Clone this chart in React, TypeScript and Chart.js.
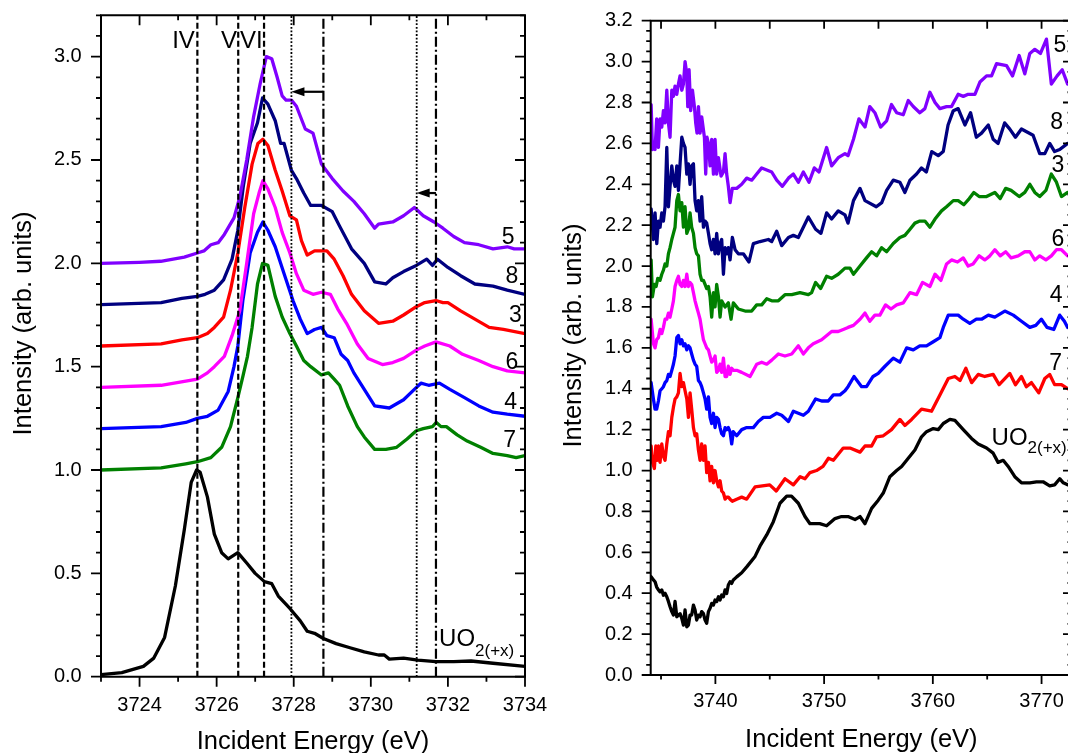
import React, { useEffect, useRef } from "react";
import { Chart, registerables } from "chart.js";

Chart.register(...registerables);

type Pt = [number, number];

const FONT = "'Liberation Sans', Arial, Helvetica, sans-serif";

// ---------------- LEFT PANEL DATA (edge region) ----------------
const LEFT_X_TICKS = [3724, 3726, 3728, 3730, 3732, 3734];
const LEFT_X_MINOR = [3723, 3725, 3727, 3729, 3731, 3733];
const LEFT_Y_TICKS = [0, 0.5, 1, 1.5, 2, 2.5, 3];

const LEFT_5: Pt[] = [
  [3723.0, 2.0], [3724.0, 2.005], [3724.55, 2.01], [3725.16, 2.03], [3725.5, 2.05], [3725.67, 2.06],
  [3725.85, 2.09], [3726.04, 2.1], [3726.2, 2.14], [3726.45, 2.22], [3726.6, 2.32], [3726.78, 2.5],
  [3726.96, 2.71], [3727.13, 2.87], [3727.29, 3.0], [3727.43, 2.99], [3727.57, 2.9], [3727.7, 2.81],
  [3727.8, 2.79], [3727.94, 2.79], [3728.07, 2.76], [3728.3, 2.65], [3728.5, 2.63], [3728.72, 2.48],
  [3729.0, 2.41], [3729.28, 2.35], [3729.56, 2.3], [3729.83, 2.24], [3730.1, 2.17], [3730.2, 2.19],
  [3730.57, 2.2], [3730.85, 2.23], [3731.13, 2.27], [3731.36, 2.23], [3731.64, 2.2], [3731.87, 2.17],
  [3732.15, 2.13], [3732.43, 2.1], [3732.8, 2.09], [3733.17, 2.07], [3733.54, 2.08], [3733.72, 2.07],
  [3734.0, 2.07],
];
const LEFT_8: Pt[] = [
  [3723.0, 1.8], [3724.56, 1.81], [3725.1, 1.83], [3725.5, 1.84], [3725.7, 1.85], [3725.94, 1.87],
  [3726.18, 1.92], [3726.4, 2.02], [3726.55, 2.16], [3726.69, 2.37], [3726.87, 2.58], [3727.06, 2.68],
  [3727.19, 2.8], [3727.33, 2.77], [3727.52, 2.69], [3727.66, 2.58], [3727.75, 2.58], [3727.94, 2.45],
  [3728.07, 2.41], [3728.26, 2.34], [3728.44, 2.28], [3728.72, 2.28], [3729.0, 2.25], [3729.19, 2.18],
  [3729.5, 2.07], [3729.83, 2.0], [3730.1, 1.91], [3730.39, 1.9], [3730.57, 1.93], [3730.85, 1.96],
  [3731.18, 1.99], [3731.45, 2.02], [3731.6, 1.99], [3731.73, 2.02], [3732.0, 1.98], [3732.33, 1.94],
  [3732.7, 1.9], [3733.17, 1.89], [3733.54, 1.87], [3734.0, 1.85],
];
const LEFT_3: Pt[] = [
  [3723.0, 1.6], [3724.56, 1.61], [3725.1, 1.63], [3725.5, 1.64], [3725.76, 1.66], [3725.94, 1.69],
  [3726.18, 1.74], [3726.36, 1.87], [3726.55, 2.05], [3726.73, 2.27], [3726.92, 2.48], [3727.07, 2.58],
  [3727.2, 2.6], [3727.33, 2.57], [3727.52, 2.45], [3727.7, 2.35], [3727.9, 2.23], [3728.07, 2.21],
  [3728.2, 2.11], [3728.35, 2.04], [3728.54, 2.06], [3728.86, 2.06], [3729.05, 2.02], [3729.28, 1.94],
  [3729.5, 1.85], [3729.83, 1.77], [3730.2, 1.71], [3730.57, 1.72], [3730.85, 1.75], [3731.18, 1.79],
  [3731.4, 1.81], [3731.69, 1.82], [3731.87, 1.81], [3732.0, 1.81], [3732.33, 1.77], [3732.7, 1.73],
  [3733.07, 1.69], [3733.44, 1.68], [3734.0, 1.66],
];
const LEFT_6: Pt[] = [
  [3723.0, 1.4], [3724.56, 1.41], [3725.2, 1.43], [3725.5, 1.44], [3725.76, 1.47], [3725.94, 1.5],
  [3726.2, 1.55], [3726.4, 1.65], [3726.6, 1.77], [3726.78, 2.0], [3726.96, 2.24], [3727.1, 2.34],
  [3727.2, 2.4], [3727.33, 2.36], [3727.52, 2.27], [3727.7, 2.15], [3727.9, 2.05], [3728.07, 1.95],
  [3728.26, 1.87], [3728.5, 1.85], [3728.72, 1.86], [3728.95, 1.85], [3729.14, 1.78], [3729.37, 1.71],
  [3729.65, 1.61], [3729.93, 1.54], [3730.3, 1.51], [3730.57, 1.52], [3730.85, 1.54], [3731.18, 1.58],
  [3731.4, 1.6], [3731.69, 1.62], [3732.05, 1.6], [3732.38, 1.56], [3732.8, 1.53], [3733.17, 1.5],
  [3733.54, 1.48], [3734.0, 1.47],
];
const LEFT_4: Pt[] = [
  [3723.0, 1.2], [3724.56, 1.21], [3725.2, 1.23], [3725.5, 1.25], [3725.76, 1.26], [3726.04, 1.29],
  [3726.3, 1.38], [3726.45, 1.5], [3726.55, 1.6], [3726.68, 1.82], [3726.87, 2.05], [3727.06, 2.15],
  [3727.2, 2.2], [3727.33, 2.16], [3727.52, 2.08], [3727.75, 1.95], [3727.98, 1.82], [3728.17, 1.73],
  [3728.35, 1.66], [3728.54, 1.68], [3728.72, 1.69], [3728.86, 1.65], [3729.05, 1.64], [3729.23, 1.56],
  [3729.4, 1.53], [3729.56, 1.47], [3729.83, 1.39], [3730.1, 1.31], [3730.48, 1.3], [3730.85, 1.34],
  [3731.13, 1.39], [3731.3, 1.42], [3731.5, 1.41], [3731.78, 1.42], [3732.05, 1.39], [3732.43, 1.35],
  [3732.8, 1.31], [3733.17, 1.28], [3733.54, 1.27], [3734.0, 1.26],
];
const LEFT_7: Pt[] = [
  [3723.0, 1.0], [3724.56, 1.01], [3725.2, 1.03], [3725.5, 1.04], [3725.85, 1.06], [3726.13, 1.11],
  [3726.36, 1.21], [3726.55, 1.35], [3726.69, 1.46], [3726.8, 1.55], [3726.92, 1.69], [3727.06, 1.9],
  [3727.19, 2.0], [3727.33, 1.99], [3727.52, 1.84], [3727.7, 1.74], [3727.9, 1.66], [3728.07, 1.6],
  [3728.26, 1.53], [3728.44, 1.5], [3728.72, 1.46], [3728.9, 1.47], [3729.05, 1.44], [3729.19, 1.41],
  [3729.4, 1.31], [3729.65, 1.21], [3729.83, 1.16], [3730.1, 1.1], [3730.39, 1.1], [3730.67, 1.11],
  [3730.94, 1.15], [3731.18, 1.19], [3731.36, 1.2], [3731.6, 1.21], [3731.7, 1.23], [3731.82, 1.21],
  [3731.96, 1.21], [3732.24, 1.17], [3732.5, 1.14], [3732.85, 1.11], [3733.17, 1.08], [3733.54, 1.07],
  [3733.77, 1.06], [3734.0, 1.07],
];
const LEFT_UO2: Pt[] = [
  [3723.0, 0.01], [3723.54, 0.02], [3724.1, 0.05], [3724.37, 0.09], [3724.65, 0.19], [3724.93, 0.44],
  [3725.16, 0.71], [3725.34, 0.94], [3725.48, 1.0], [3725.57, 0.99], [3725.76, 0.87], [3725.94, 0.69],
  [3726.13, 0.6], [3726.3, 0.57], [3726.55, 0.6], [3726.78, 0.55], [3727.0, 0.5], [3727.24, 0.46],
  [3727.43, 0.45], [3727.6, 0.39], [3727.9, 0.33], [3728.17, 0.27], [3728.35, 0.22], [3728.54, 0.21],
  [3728.77, 0.185], [3729.1, 0.16], [3729.46, 0.14], [3729.83, 0.12], [3730.2, 0.105], [3730.35, 0.105],
  [3730.48, 0.085], [3730.85, 0.09], [3731.22, 0.08], [3731.69, 0.073], [3732.15, 0.073], [3732.6, 0.076],
  [3733.17, 0.065], [3734.0, 0.05],
];

// reference lines (eV)
const DASHED_LINES = [3725.5, 3726.56, 3727.23];
const DOTTED_LINES = [3727.94, 3731.19];
const DASHDOT_LINES = [3728.77, 3731.69];
const SHIFT_ARROWS = [
  { from: 3728.77, to: 3727.94, y: 2.83 },
  { from: 3731.69, to: 3731.19, y: 2.34 },
];

// ---------------- RIGHT PANEL DATA (post-edge region) ----------------
const RIGHT_X_TICKS = [3740, 3750, 3760, 3770];
const RIGHT_X_MINOR = [3735, 3745, 3755, 3765];
const RIGHT_Y_TICKS = [0, 0.2, 0.4, 0.6, 0.8, 1.0, 1.2, 1.4, 1.6, 1.8, 2.0, 2.2, 2.4, 2.6, 2.8, 3.0, 3.2];

const RIGHT_5: Pt[] = [
  [3734.09, 2.79], [3734.21, 2.57], [3734.3, 2.58], [3734.45, 2.57], [3734.6, 2.72], [3734.76, 2.58],
  [3734.91, 2.72], [3735.07, 2.68], [3735.22, 2.76], [3735.37, 2.7], [3735.53, 2.86], [3735.68, 2.7],
  [3735.83, 2.63], [3735.99, 2.86], [3736.14, 2.83], [3736.29, 2.88], [3736.45, 2.84], [3736.6, 2.89],
  [3736.75, 2.93], [3736.91, 2.86], [3737.06, 2.89], [3737.21, 3.0], [3737.37, 2.94], [3737.46, 2.78],
  [3737.58, 2.96], [3737.73, 2.76], [3737.89, 2.86], [3738.07, 2.78], [3738.19, 2.7], [3738.31, 2.65],
  [3738.44, 2.78], [3738.59, 2.65], [3738.74, 2.73], [3738.99, 2.63], [3739.11, 2.45], [3739.23, 2.63],
  [3739.36, 2.6], [3739.51, 2.49], [3739.66, 2.62], [3739.82, 2.45], [3739.97, 2.62], [3740.12, 2.45],
  [3740.28, 2.53], [3740.52, 2.44], [3740.74, 2.46], [3740.89, 2.55], [3741.04, 2.45], [3741.19, 2.39],
  [3741.35, 2.31], [3741.56, 2.38], [3741.96, 2.38], [3742.42, 2.4], [3742.88, 2.43], [3743.34, 2.42],
  [3743.8, 2.45], [3744.26, 2.48], [3745.18, 2.46], [3745.64, 2.42], [3746.16, 2.39], [3746.72, 2.43],
  [3747.17, 2.45], [3747.63, 2.41], [3748.09, 2.46], [3748.61, 2.41], [3749.1, 2.48], [3749.53, 2.46],
  [3750.23, 2.58], [3750.69, 2.49], [3751.3, 2.53], [3751.92, 2.55], [3752.2, 2.54], [3752.7, 2.62],
  [3753.2, 2.72], [3753.76, 2.68], [3754.2, 2.78], [3754.67, 2.75], [3755.2, 2.68], [3755.75, 2.71],
  [3756.2, 2.79], [3756.67, 2.75], [3757.28, 2.74], [3757.74, 2.81], [3758.2, 2.78], [3758.8, 2.75],
  [3759.27, 2.77], [3759.73, 2.85], [3760.2, 2.8], [3760.65, 2.77], [3761.26, 2.78], [3761.72, 2.78],
  [3762.33, 2.84], [3762.8, 2.83], [3763.25, 2.84], [3763.87, 2.84], [3764.33, 2.9], [3764.94, 2.93],
  [3765.4, 2.93], [3765.86, 2.99], [3766.78, 2.98], [3767.33, 2.93], [3767.94, 3.03], [3768.46, 2.94],
  [3768.92, 3.04], [3769.38, 3.06], [3769.9, 3.04], [3770.45, 3.11], [3770.9, 2.89], [3771.43, 2.93],
  [3771.9, 2.96], [3772.4, 2.89],
];
const RIGHT_8: Pt[] = [
  [3734.09, 2.28], [3734.3, 2.13], [3734.45, 2.26], [3734.61, 2.11], [3734.76, 2.22], [3734.91, 2.19],
  [3735.07, 2.26], [3735.22, 2.22], [3735.37, 2.29], [3735.53, 2.58], [3735.68, 2.29], [3735.83, 2.39],
  [3735.99, 2.49], [3736.14, 2.42], [3736.29, 2.39], [3736.45, 2.49], [3736.6, 2.37], [3736.75, 2.5],
  [3736.91, 2.63], [3737.06, 2.6], [3737.21, 2.58], [3737.37, 2.45], [3737.52, 2.5], [3737.67, 2.4],
  [3737.82, 2.49], [3737.98, 2.5], [3738.13, 2.32], [3738.28, 2.27], [3738.44, 2.32], [3738.59, 2.22],
  [3738.74, 2.34], [3738.9, 2.19], [3739.05, 2.22], [3739.2, 2.21], [3739.36, 2.16], [3739.51, 2.11],
  [3739.66, 2.08], [3739.82, 2.13], [3739.97, 2.06], [3740.12, 2.16], [3740.28, 2.06], [3740.43, 2.11],
  [3740.58, 2.13], [3740.74, 1.96], [3740.89, 2.09], [3741.04, 2.06], [3741.19, 2.09], [3741.35, 2.03],
  [3741.56, 2.14], [3741.81, 2.08], [3742.11, 2.06], [3742.57, 2.06], [3743.09, 2.02], [3743.49, 2.11],
  [3744.11, 2.12], [3744.87, 2.13], [3745.18, 2.12], [3745.64, 2.17], [3746.1, 2.1], [3746.72, 2.14],
  [3747.17, 2.15], [3747.63, 2.14], [3748.55, 2.24], [3749.22, 2.18], [3749.71, 2.16], [3750.23, 2.26],
  [3750.69, 2.23], [3751.3, 2.27], [3751.92, 2.25], [3752.2, 2.21], [3752.7, 2.32], [3753.3, 2.38],
  [3753.76, 2.32], [3754.8, 2.29], [3755.3, 2.31], [3755.75, 2.37], [3756.36, 2.42], [3756.97, 2.41],
  [3757.43, 2.36], [3757.9, 2.42], [3758.5, 2.45], [3758.96, 2.48], [3759.4, 2.46], [3759.9, 2.56],
  [3760.5, 2.54], [3760.96, 2.56], [3761.4, 2.69], [3761.88, 2.76], [3762.33, 2.77], [3762.95, 2.69],
  [3763.47, 2.75], [3764.0, 2.63], [3764.48, 2.65], [3765.1, 2.69], [3765.55, 2.62], [3766.0, 2.6],
  [3766.6, 2.7], [3767.08, 2.67], [3767.6, 2.63], [3768.15, 2.67], [3769.22, 2.64], [3769.83, 2.55],
  [3770.3, 2.55], [3770.75, 2.6], [3771.2, 2.56], [3771.67, 2.57], [3772.4, 2.6],
];
const RIGHT_3: Pt[] = [
  [3734.09, 2.03], [3734.21, 1.85], [3734.39, 1.91], [3734.55, 1.9], [3734.7, 1.94], [3734.91, 1.93],
  [3735.07, 1.96], [3735.22, 1.98], [3735.37, 2.01], [3735.53, 2.0], [3735.68, 2.06], [3735.83, 2.09],
  [3735.99, 2.13], [3736.14, 2.16], [3736.29, 2.19], [3736.45, 2.32], [3736.6, 2.35], [3736.75, 2.27],
  [3736.91, 2.31], [3737.06, 2.19], [3737.21, 2.29], [3737.37, 2.16], [3737.52, 2.18], [3737.67, 2.26],
  [3737.82, 2.19], [3737.98, 2.16], [3738.13, 2.09], [3738.28, 2.06], [3738.44, 2.05], [3738.59, 1.96],
  [3738.74, 1.93], [3738.9, 1.93], [3739.05, 1.91], [3739.2, 1.89], [3739.36, 1.9], [3739.51, 1.85],
  [3739.66, 1.75], [3739.82, 1.87], [3739.97, 1.8], [3740.12, 1.91], [3740.28, 1.85], [3740.43, 1.75],
  [3740.58, 1.83], [3740.89, 1.8], [3741.19, 1.82], [3741.44, 1.74], [3741.65, 1.82], [3742.11, 1.79],
  [3742.73, 1.78], [3743.34, 1.78], [3743.8, 1.81], [3744.26, 1.81], [3744.72, 1.84], [3745.18, 1.83],
  [3745.79, 1.83], [3746.4, 1.86], [3747.02, 1.86], [3747.78, 1.87], [3748.55, 1.86], [3748.85, 1.87],
  [3749.22, 1.92], [3749.68, 1.89], [3750.23, 1.95], [3750.69, 1.94], [3751.3, 1.96], [3751.92, 1.99],
  [3752.38, 1.99], [3752.7, 1.96], [3753.3, 2.0], [3753.9, 2.04], [3754.37, 2.07], [3754.83, 2.05],
  [3755.29, 2.09], [3755.75, 2.07], [3756.36, 2.11], [3756.97, 2.14], [3757.43, 2.15], [3757.9, 2.18],
  [3758.35, 2.21], [3758.8, 2.22], [3759.27, 2.22], [3759.73, 2.19], [3760.2, 2.23], [3760.8, 2.27],
  [3761.26, 2.29], [3761.88, 2.32], [3762.33, 2.32], [3762.85, 2.3], [3763.35, 2.33], [3763.77, 2.36],
  [3764.26, 2.34], [3764.94, 2.34], [3765.7, 2.36], [3766.2, 2.33], [3766.7, 2.38], [3767.2, 2.37],
  [3767.94, 2.34], [3768.46, 2.36], [3768.92, 2.4], [3769.38, 2.36], [3769.83, 2.34], [3770.4, 2.37],
  [3770.9, 2.45], [3771.37, 2.41], [3771.83, 2.34], [3772.4, 2.36],
];
const RIGHT_6: Pt[] = [
  [3734.09, 1.74], [3734.3, 1.62], [3734.45, 1.6], [3734.6, 1.64], [3734.76, 1.65], [3734.91, 1.69],
  [3735.07, 1.67], [3735.22, 1.7], [3735.37, 1.74], [3735.53, 1.74], [3735.68, 1.77], [3735.83, 1.75],
  [3735.99, 1.79], [3736.14, 1.83], [3736.29, 1.9], [3736.45, 1.93], [3736.6, 1.95], [3736.75, 1.91],
  [3736.91, 1.9], [3737.06, 1.93], [3737.21, 1.9], [3737.37, 1.96], [3737.52, 1.9], [3737.67, 1.92],
  [3737.82, 1.91], [3737.98, 1.87], [3738.13, 1.83], [3738.28, 1.8], [3738.44, 1.77], [3738.59, 1.74],
  [3738.74, 1.69], [3738.9, 1.64], [3739.05, 1.62], [3739.2, 1.6], [3739.36, 1.59], [3739.51, 1.56],
  [3739.66, 1.53], [3739.82, 1.54], [3739.97, 1.56], [3740.12, 1.48], [3740.28, 1.49], [3740.43, 1.52],
  [3740.58, 1.48], [3740.74, 1.55], [3740.89, 1.46], [3741.04, 1.46], [3741.19, 1.51], [3741.35, 1.47],
  [3741.5, 1.5], [3741.65, 1.49], [3741.96, 1.49], [3742.42, 1.48], [3743.19, 1.46], [3743.8, 1.52],
  [3744.26, 1.53], [3744.72, 1.52], [3745.18, 1.54], [3745.79, 1.57], [3746.4, 1.56], [3747.02, 1.57],
  [3747.63, 1.61], [3748.09, 1.57], [3748.55, 1.6], [3749.0, 1.62], [3749.77, 1.64], [3750.69, 1.68],
  [3751.3, 1.68], [3751.76, 1.69], [3752.2, 1.7], [3752.7, 1.71], [3753.3, 1.74], [3753.76, 1.77],
  [3754.2, 1.73], [3754.67, 1.76], [3755.13, 1.76], [3755.65, 1.81], [3756.15, 1.79], [3756.67, 1.81],
  [3757.28, 1.82], [3757.9, 1.87], [3758.5, 1.86], [3759.05, 1.92], [3759.73, 1.9], [3760.2, 1.96],
  [3760.74, 1.93], [3761.26, 2.01], [3761.72, 2.03], [3762.27, 2.02], [3762.8, 2.04], [3763.25, 2.0],
  [3763.7, 2.01], [3764.26, 2.05], [3764.78, 2.03], [3765.25, 2.05], [3765.7, 2.08], [3766.2, 2.05],
  [3766.7, 2.07], [3767.2, 2.04], [3767.85, 2.05], [3768.46, 2.07], [3768.92, 2.07], [3769.38, 2.03],
  [3769.83, 2.05], [3770.4, 2.03], [3770.9, 2.05], [3771.37, 2.08], [3771.83, 2.08], [3772.4, 2.05],
];
const RIGHT_4: Pt[] = [
  [3734.09, 1.43], [3734.3, 1.35], [3734.45, 1.3], [3734.6, 1.3], [3734.76, 1.34], [3734.91, 1.39],
  [3735.07, 1.4], [3735.22, 1.41], [3735.37, 1.43], [3735.53, 1.44], [3735.68, 1.47], [3735.83, 1.46],
  [3735.99, 1.49], [3736.14, 1.52], [3736.29, 1.56], [3736.45, 1.65], [3736.6, 1.66], [3736.75, 1.62],
  [3736.91, 1.64], [3737.06, 1.61], [3737.21, 1.62], [3737.37, 1.59], [3737.52, 1.61], [3737.67, 1.6],
  [3737.82, 1.57], [3737.98, 1.54], [3738.13, 1.52], [3738.28, 1.51], [3738.44, 1.44], [3738.59, 1.43],
  [3738.74, 1.41], [3738.9, 1.38], [3739.05, 1.35], [3739.2, 1.3], [3739.36, 1.36], [3739.51, 1.26],
  [3739.66, 1.23], [3739.82, 1.28], [3739.97, 1.21], [3740.12, 1.26], [3740.28, 1.25], [3740.43, 1.21],
  [3740.58, 1.18], [3740.74, 1.17], [3740.89, 1.21], [3741.04, 1.2], [3741.19, 1.21], [3741.35, 1.19],
  [3741.5, 1.13], [3741.65, 1.19], [3741.96, 1.17], [3742.42, 1.2], [3742.88, 1.21], [3743.49, 1.21],
  [3743.95, 1.24], [3744.41, 1.26], [3745.02, 1.26], [3745.64, 1.28], [3746.1, 1.27], [3746.72, 1.24],
  [3747.17, 1.29], [3747.63, 1.28], [3748.09, 1.27], [3748.55, 1.29], [3749.22, 1.35], [3749.77, 1.34],
  [3750.38, 1.34], [3750.85, 1.37], [3751.46, 1.37], [3751.92, 1.39], [3752.2, 1.41], [3752.75, 1.46],
  [3753.45, 1.41], [3753.9, 1.41], [3754.5, 1.46], [3754.98, 1.475], [3755.6, 1.51], [3756.36, 1.55],
  [3756.97, 1.53], [3757.59, 1.6], [3758.2, 1.59], [3758.8, 1.61], [3759.42, 1.61], [3760.04, 1.63],
  [3760.65, 1.65], [3760.96, 1.7], [3761.42, 1.76], [3761.88, 1.76], [3762.33, 1.76], [3762.8, 1.74],
  [3763.4, 1.72], [3764.0, 1.74], [3764.48, 1.74], [3765.1, 1.76], [3765.7, 1.75], [3766.62, 1.78],
  [3767.4, 1.76], [3768.15, 1.73], [3768.92, 1.7], [3769.47, 1.71], [3769.99, 1.74], [3770.5, 1.7],
  [3771.13, 1.69], [3771.67, 1.76], [3772.1, 1.73], [3772.4, 1.7],
];
const RIGHT_7: Pt[] = [
  [3734.09, 1.12], [3734.21, 1.04], [3734.39, 1.01], [3734.52, 1.12], [3734.64, 1.05], [3734.76, 1.12],
  [3734.91, 1.04], [3735.07, 1.13], [3735.22, 1.07], [3735.37, 1.05], [3735.53, 1.13], [3735.68, 1.19],
  [3735.83, 1.17], [3735.99, 1.26], [3736.14, 1.31], [3736.29, 1.35], [3736.45, 1.36], [3736.6, 1.38],
  [3736.75, 1.475], [3736.91, 1.41], [3737.06, 1.43], [3737.21, 1.39], [3737.37, 1.35], [3737.52, 1.26],
  [3737.67, 1.38], [3737.82, 1.3], [3737.98, 1.21], [3738.13, 1.17], [3738.28, 1.18], [3738.44, 1.1],
  [3738.59, 1.05], [3738.74, 1.13], [3738.9, 1.05], [3739.05, 1.12], [3739.2, 0.99], [3739.36, 1.04],
  [3739.51, 0.95], [3739.66, 1.02], [3739.82, 0.94], [3739.97, 1.0], [3740.12, 0.95], [3740.28, 0.92],
  [3740.43, 0.95], [3740.58, 0.9], [3740.74, 0.89], [3740.89, 0.86], [3741.04, 0.87], [3741.19, 0.87],
  [3741.35, 0.86], [3741.56, 0.85], [3741.96, 0.86], [3742.42, 0.87], [3742.88, 0.86], [3743.65, 0.92],
  [3745.0, 0.93], [3745.6, 0.9], [3746.4, 0.96], [3747.17, 0.93], [3747.8, 0.97], [3748.24, 0.96],
  [3748.7, 0.99], [3749.3, 1.0], [3749.9, 1.02], [3750.4, 1.06], [3750.85, 1.05], [3751.76, 1.11],
  [3752.38, 1.11], [3753.3, 1.09], [3753.76, 1.12], [3754.37, 1.12], [3754.83, 1.165], [3755.44, 1.17],
  [3756.2, 1.2], [3756.97, 1.25], [3757.43, 1.22], [3758.05, 1.25], [3758.96, 1.3], [3759.88, 1.29],
  [3760.65, 1.37], [3761.42, 1.45], [3762.03, 1.46], [3762.5, 1.44], [3763.04, 1.5], [3763.57, 1.43],
  [3764.17, 1.47], [3764.78, 1.46], [3765.55, 1.47], [3766.1, 1.42], [3767.08, 1.475], [3767.6, 1.42],
  [3768.15, 1.46], [3768.6, 1.41], [3769.07, 1.43], [3769.74, 1.38], [3770.3, 1.45], [3770.75, 1.47],
  [3771.2, 1.42], [3771.83, 1.42], [3772.4, 1.4],
];
const RIGHT_UO2: Pt[] = [
  [3734.09, 0.48], [3734.3, 0.465], [3734.45, 0.456], [3734.6, 0.43], [3734.76, 0.416], [3734.91, 0.407],
  [3735.07, 0.416], [3735.22, 0.39], [3735.37, 0.4], [3735.53, 0.383], [3735.68, 0.36], [3735.83, 0.334],
  [3735.99, 0.31], [3736.14, 0.293], [3736.29, 0.36], [3736.45, 0.285], [3736.6, 0.293], [3736.75, 0.3],
  [3736.91, 0.277], [3737.06, 0.244], [3737.21, 0.318], [3737.37, 0.236], [3737.52, 0.244], [3737.67, 0.293],
  [3737.82, 0.293], [3737.98, 0.342], [3738.13, 0.318], [3738.28, 0.269], [3738.44, 0.293], [3738.59, 0.285],
  [3738.74, 0.31], [3738.9, 0.3], [3739.05, 0.269], [3739.2, 0.253], [3739.36, 0.31], [3739.51, 0.326],
  [3739.66, 0.35], [3739.82, 0.342], [3739.97, 0.367], [3740.12, 0.359], [3740.28, 0.383], [3740.43, 0.367],
  [3740.58, 0.391], [3740.74, 0.383], [3740.89, 0.416], [3741.04, 0.399], [3741.19, 0.44], [3741.35, 0.456],
  [3741.5, 0.448], [3741.65, 0.465], [3741.96, 0.48], [3742.42, 0.5], [3742.9, 0.53], [3743.65, 0.58],
  [3744.1, 0.63], [3744.72, 0.685], [3745.33, 0.75], [3745.94, 0.84], [3746.56, 0.875], [3747.0, 0.875],
  [3747.63, 0.84], [3748.24, 0.775], [3748.7, 0.74], [3749.6, 0.74], [3750.23, 0.73], [3751.0, 0.765],
  [3751.6, 0.775], [3752.2, 0.775], [3752.84, 0.76], [3753.3, 0.775], [3753.76, 0.74], [3754.37, 0.815],
  [3754.98, 0.855], [3755.44, 0.89], [3756.05, 0.97], [3756.67, 1.0], [3757.13, 1.02], [3757.74, 1.06],
  [3758.35, 1.1], [3758.96, 1.165], [3759.42, 1.19], [3760.04, 1.205], [3760.5, 1.2], [3760.96, 1.23],
  [3761.57, 1.25], [3762.03, 1.245], [3762.8, 1.2], [3763.56, 1.157], [3764.17, 1.13], [3764.94, 1.11],
  [3765.55, 1.085], [3766.0, 1.04], [3766.47, 1.05], [3766.93, 1.02], [3767.54, 0.97], [3768.15, 0.94],
  [3768.92, 0.94], [3769.53, 0.945], [3770.14, 0.945], [3770.75, 0.925], [3771.2, 0.93], [3771.67, 0.96],
  [3772.0, 0.94], [3772.4, 0.93],
];

// sample labels
const SAMPLE_NAMES = ["5", "8", "3", "6", "4", "7"];
const LEFT_LABEL_POS: Pt[] = [
  [3733.56, 2.126], [3733.66, 1.934], [3733.75, 1.746], [3733.66, 1.517], [3733.63, 1.328], [3733.6, 1.142],
];
const RIGHT_LABEL_POS: Pt[] = [
  [3771.68, 3.08], [3771.38, 2.7], [3771.5, 2.49], [3771.5, 2.13], [3771.35, 1.854], [3771.3, 1.524],
];
const OX_STATE_LABELS = ["IV", "V", "VI"];
const OX_STATE_POS: Pt[] = [[3725.14, 3.04], [3726.32, 3.04], [3726.9, 3.04]];

const COLORS = {
  s5: "#8000ff",
  s8: "#000080",
  s3: "#ff0000",
  s6: "#ff00ff",
  s4: "#0000ff",
  s7: "#008000",
  uo2: "#000000",
};

function minorList(min: number, max: number, step: number, majorStep: number): number[] {
  const out: number[] = [];
  const n = Math.round((max - min) / step);
  for (let i = 0; i <= n; i++) {
    const v = +(min + i * step).toFixed(4);
    const r = v / majorStep;
    if (Math.abs(r - Math.round(r)) > 1e-6) out.push(v);
  }
  return out;
}

const framePlugin = {
  id: "frameTicks",
  afterDatasetsDraw(chart: any, _args: any, o: any) {
    const { ctx, chartArea: a, scales } = chart;
    const xs = scales.x;
    const ys = scales.y;
    ctx.save();
    ctx.strokeStyle = "#000";
    ctx.lineWidth = 2;
    ctx.beginPath();
    ctx.rect(a.left, a.top, a.right - a.left, a.bottom - a.top);
    ctx.stroke();
    ctx.lineWidth = 1.8;
    ctx.beginPath();
    const seg = (x1: number, y1: number, x2: number, y2: number) => {
      ctx.moveTo(x1, y1);
      ctx.lineTo(x2, y2);
    };
    const X = (v: number) => xs.getPixelForValue(v);
    const Y = (v: number) => ys.getPixelForValue(v);
    o.xMajor.forEach((v: number) => {
      seg(X(v), a.bottom, X(v), a.bottom + o.major);
      seg(X(v), a.top, X(v), a.top + o.topMajor);
    });
    o.xMinor.forEach((v: number) => {
      seg(X(v), a.bottom, X(v), a.bottom + o.minor);
      seg(X(v), a.top, X(v), a.top + o.topMinor);
    });
    o.yMajor.forEach((v: number) => {
      seg(a.left - o.major, Y(v), a.left, Y(v));
      seg(a.right - o.major, Y(v), a.right, Y(v));
    });
    o.yMinor.forEach((v: number) => {
      seg(a.left - o.minor, Y(v), a.left, Y(v));
      seg(a.right - o.minor, Y(v), a.right, Y(v));
    });
    ctx.stroke();
    ctx.restore();
  },
};

const textPlugin = {
  id: "panelText",
  afterDraw(chart: any, _args: any, o: any) {
    const { ctx, chartArea: a, scales } = chart;
    const X = (v: number) => scales.x.getPixelForValue(v);
    const Y = (v: number) => scales.y.getPixelForValue(v);
    ctx.save();
    ctx.fillStyle = "#000";
    ctx.strokeStyle = "#000";
    (o.arrows || []).forEach((ar: any) => {
      const x1 = X(ar.from);
      const x2 = X(ar.to);
      const y = Y(ar.y);
      const head = 13;
      ctx.lineWidth = 2.2;
      ctx.beginPath();
      ctx.moveTo(x1, y);
      ctx.lineTo(x2 + head - 1, y);
      ctx.stroke();
      ctx.beginPath();
      ctx.moveTo(x2, y);
      ctx.lineTo(x2 + head, y - 4.5);
      ctx.lineTo(x2 + head, y + 4.5);
      ctx.closePath();
      ctx.fill();
    });
    (o.items || []).forEach((t: any) => {
      ctx.font = `${t.size}px ${FONT}`;
      ctx.textAlign = t.align || "center";
      ctx.textBaseline = t.baseline || "alphabetic";
      const px = X(t.x);
      const py = Y(t.y);
      ctx.fillText(t.text, px, py);
      if (t.sub) {
        const w = ctx.measureText(t.text).width;
        ctx.font = `${t.subSize}px ${FONT}`;
        ctx.textAlign = "left";
        ctx.textBaseline = "alphabetic";
        ctx.fillText(t.sub, px + w, Y(t.subY));
      }
    });
    ctx.font = `${o.titleSize}px ${FONT}`;
    ctx.textAlign = "center";
    ctx.textBaseline = "alphabetic";
    ctx.fillText(o.xTitle, (a.left + a.right) / 2, o.xTitleY);
    ctx.save();
    ctx.translate(o.yTitleX, o.yTitleY);
    ctx.rotate(-Math.PI / 2);
    ctx.textBaseline = "middle";
    ctx.fillText(o.yTitle, 0, 0);
    ctx.restore();
    ctx.restore();
  },
};

const curve = (pts: Pt[], color: string) => ({
  data: pts.map(([x, y]) => ({ x, y })),
  borderColor: color,
  borderWidth: 3.3,
  borderJoinStyle: "round",
  borderCapStyle: "round",
  pointRadius: 0,
  tension: 0,
  fill: false,
  order: 1,
});

const vline = (e: number, dash: number[], width: number, yMax: number) => ({
  data: [
    { x: e, y: 0 },
    { x: e, y: yMax },
  ],
  borderColor: "#000",
  borderWidth: width,
  borderDash: dash,
  pointRadius: 0,
  fill: false,
  order: 0,
});

function axes(
  xMin: number, xMax: number, xTicks: number[], yMax: number, yTicks: number[],
  yWidth: number, xHeight: number, yPad: number, xPad: number
) {
  return {
    x: {
      type: "linear",
      min: xMin,
      max: xMax,
      grid: { display: false, drawTicks: false },
      border: { display: false },
      afterBuildTicks: (s: any) => {
        s.ticks = xTicks.map((v) => ({ value: v }));
      },
      afterFit: (s: any) => {
        s.height = xHeight;
        s.paddingLeft = 0;
        s.paddingRight = 0;
      },
      ticks: {
        autoSkip: false,
        maxRotation: 0,
        padding: xPad,
        color: "#000",
        font: { family: FONT, size: 20 },
        callback: (v: any) => Number(v).toFixed(0),
      },
    },
    y: {
      type: "linear",
      min: 0,
      max: yMax,
      grid: { display: false, drawTicks: false },
      border: { display: false },
      afterBuildTicks: (s: any) => {
        s.ticks = yTicks.map((v) => ({ value: v }));
      },
      afterFit: (s: any) => {
        s.width = yWidth;
        s.paddingTop = 0;
        s.paddingBottom = 0;
      },
      ticks: {
        autoSkip: false,
        padding: yPad,
        color: "#000",
        font: { family: FONT, size: 20 },
        callback: (v: any) => Number(v).toFixed(1),
      },
    },
  };
}

function leftConfig(): any {
  const yMax = 3.2;
  const datasets: any[] = [
    ...DASHED_LINES.map((e) => vline(e, [6, 3], 2.2, yMax)),
    ...DOTTED_LINES.map((e) => vline(e, [1.8, 1.8], 1.8, yMax)),
    ...DASHDOT_LINES.map((e) => vline(e, [10, 3, 2, 3], 2.2, yMax)),
    curve(LEFT_5, COLORS.s5),
    curve(LEFT_8, COLORS.s8),
    curve(LEFT_3, COLORS.s3),
    curve(LEFT_6, COLORS.s6),
    curve(LEFT_4, COLORS.s4),
    curve(LEFT_7, COLORS.s7),
    curve(LEFT_UO2, COLORS.uo2),
  ];
  const items: any[] = [
    ...OX_STATE_LABELS.map((t, i) => ({ text: t, x: OX_STATE_POS[i][0], y: OX_STATE_POS[i][1], size: 24 })),
    ...SAMPLE_NAMES.map((t, i) => ({
      text: t, x: LEFT_LABEL_POS[i][0], y: LEFT_LABEL_POS[i][1], size: 23, baseline: "middle",
    })),
    { text: "UO", sub: "2(+x)", x: 3731.77, y: 0.148, subY: 0.098, size: 24, subSize: 17, align: "left" },
  ];
  return {
    type: "line",
    data: { datasets },
    plugins: [framePlugin, textPlugin],
    options: {
      animation: false,
      responsive: false,
      maintainAspectRatio: false,
      devicePixelRatio: 1,
      events: [],
      layout: { padding: { left: 0, top: 15.3, right: 35, bottom: 0 } },
      plugins: {
        legend: { display: false },
        tooltip: { enabled: false },
        frameTicks: {
          xMajor: LEFT_X_TICKS, xMinor: LEFT_X_MINOR,
          yMajor: LEFT_Y_TICKS, yMinor: minorList(0, 3.2, 0.1, 0.5),
          major: 10, minor: 5, topMajor: 10, topMinor: 5,
        },
        panelText: {
          items, arrows: SHIFT_ARROWS,
          titleSize: 25.5, xTitle: "Incident Energy (eV)", xTitleY: 748.5,
          yTitle: "Intensity (arb. units)", yTitleX: 24, yTitleY: 323.5,
        },
      },
      scales: axes(3723, 3734, LEFT_X_TICKS, yMax, LEFT_Y_TICKS, 101, 76.3, 19.3, 16.3),
    },
  };
}

function rightConfig(): any {
  const yMax = 3.2;
  const datasets: any[] = [
    curve(RIGHT_5, COLORS.s5),
    curve(RIGHT_8, COLORS.s8),
    curve(RIGHT_3, COLORS.s7),
    curve(RIGHT_6, COLORS.s6),
    curve(RIGHT_4, COLORS.s4),
    curve(RIGHT_7, COLORS.s3),
    curve(RIGHT_UO2, COLORS.uo2),
  ];
  const items: any[] = [
    ...SAMPLE_NAMES.map((t, i) => ({
      text: t, x: RIGHT_LABEL_POS[i][0], y: RIGHT_LABEL_POS[i][1], size: 23, baseline: "middle",
    })),
    { text: "UO", sub: "2(+x)", x: 3765.4, y: 1.125, subY: 1.084, size: 24, subSize: 17, align: "left" },
  ];
  return {
    type: "line",
    data: { datasets },
    plugins: [framePlugin, textPlugin],
    options: {
      animation: false,
      responsive: false,
      maintainAspectRatio: false,
      devicePixelRatio: 1,
      events: [],
      layout: { padding: { left: 0, top: 20.7, right: 18, bottom: 0 } },
      plugins: {
        legend: { display: false },
        tooltip: { enabled: false },
        frameTicks: {
          xMajor: RIGHT_X_TICKS, xMinor: RIGHT_X_MINOR,
          yMajor: RIGHT_Y_TICKS, yMinor: minorList(0, 3.2, 0.05, 0.2),
          major: 9, minor: 4.5, topMajor: 8, topMinor: 8,
        },
        panelText: {
          items,
          titleSize: 25.5, xTitle: "Incident Energy (eV)", xTitleY: 747,
          yTitle: "Intensity (arb. units)", yTitleX: 13.5, yTitleY: 335.5,
        },
      },
      scales: axes(3734.05, 3772.8, RIGHT_X_TICKS, yMax, RIGHT_Y_TICKS, 90.7, 78, 18, 14.7),
    },
  };
}

export default function App() {
  const leftRef = useRef<HTMLCanvasElement>(null);
  const rightRef = useRef<HTMLCanvasElement>(null);

  useEffect(() => {
    document.body.style.margin = "0";
    Chart.defaults.font.family = FONT;
    const c1 = new Chart(leftRef.current as HTMLCanvasElement, leftConfig());
    const c2 = new Chart(rightRef.current as HTMLCanvasElement, rightConfig());
    return () => {
      c1.destroy();
      c2.destroy();
    };
  }, []);

  return (
    <div
      style={{
        position: "fixed",
        left: 0,
        top: 0,
        width: 1068,
        height: 753,
        overflow: "hidden",
        background: "#fff",
      }}
    >
      <canvas
        ref={leftRef}
        width={560}
        height={753}
        style={{ position: "absolute", left: 0, top: 0, width: 560, height: 753 }}
      />
      <canvas
        ref={rightRef}
        width={530}
        height={753}
        style={{ position: "absolute", left: 560, top: 0, width: 530, height: 753 }}
      />
    </div>
  );
}
